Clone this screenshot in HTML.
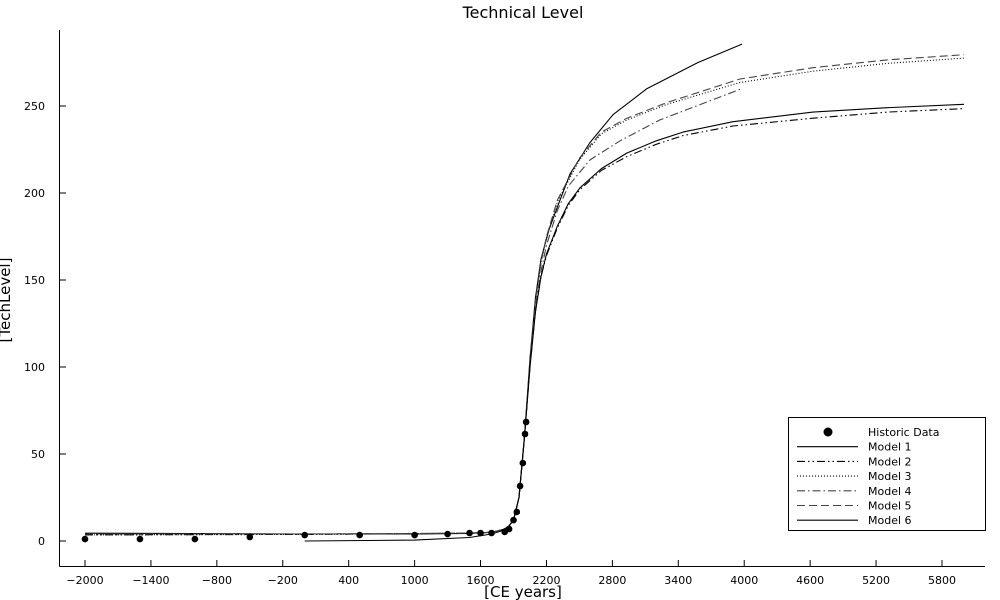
<!DOCTYPE html>
<html><head><meta charset="utf-8"><style>
body{margin:0;background:#fff}
svg{display:block;font-family:"DejaVu Sans","Liberation Sans",sans-serif}
</style></head><body>
<svg id="chart" width="1000" height="600">
<text x="523" y="18" font-size="16" text-anchor="middle">Technical Level</text>
<text x="523" y="597" font-size="15" text-anchor="middle">[CE years]</text>
<text transform="translate(10,300) rotate(-90)" font-size="15" text-anchor="middle">[TechLevel]</text>
<g id="axes"></g><g id="series"></g><g id="legend"></g>
</svg>
<script>
const xTicks=[-2000,-1400,-800,-200,400,1000,1600,2200,2800,3400,4000,4600,5200,5800];
const yTicks=[0,50,100,150,200,250];
const histYears=[-2000,-1500,-1000,-500,0,500,1000,1300,1500,1600,1700,1820,1860,1900,1930,1960,1985,2005,2015];
const histVals=[1.1,1.1,1.1,2.3,3.4,3.4,3.4,4,4.6,4.6,4.6,5.2,6.9,12,16.7,31.6,44.8,61.5,68.4];
const m1Years=[-2000,0,1000,1500,1700,1800,1850,1900,1950,2000,2050,2100,2150,2223,2300,2414,2596,2806,3115,3579,3980];
const m1Vals=[4.5,4,4,4.3,5,6.5,8,12,25,60,105,140,162,179,192,211,229,245,260,275,285.6];
const m2Years=[-2000,0,1000,1500,1700,1800,1850,1900,1950,2000,2050,2100,2150,2200,2300,2400,2505,2700,2933,3200,3443,3898,4626,5300,6000];
const m2Vals=[3.5,3.8,4.2,4.5,5,6.5,8,12,25,60,100,132,152,164,180,193,202,213,221,228,233,238.5,243,246.5,248.5];
const m3Years=[-2000,0,1000,1500,1700,1800,1850,1900,1950,2000,2050,2100,2150,2200,2300,2500,2700,2933,3297,3962,4626,5300,6000];
const m3Vals=[3.5,3.8,4.2,4.5,5,6.5,8,12,25,60,103,138,160,174,195,219,234,242,251,263.5,270,274.5,277.5];
const m4Years=[-2000,0,1000,1500,1700,1800,1850,1900,1950,2000,2050,2100,2150,2200,2300,2400,2596,2870,3233,3980];
const m4Vals=[4,4,4.3,4.6,5,6.5,8,12,25,60,102,135,155,170,190,204,219,230,242,260];
const m5Years=[-2000,0,1000,1500,1700,1800,1850,1900,1950,2000,2050,2100,2150,2200,2300,2500,2700,2933,3297,3962,4626,5300,6000];
const m5Vals=[4,4,4.3,4.6,5,6.5,8,12,25,60,103,138,160,175,196,220,235,243,252,265.5,272,276.5,279.5];
const m6Years=[0,1000,1500,1700,1800,1850,1900,1950,2000,2050,2100,2150,2200,2300,2400,2505,2700,2933,3200,3443,3898,4626,5300,6000];
const m6Vals=[0,0.5,2,4,6,8,12,25,60,100,132,152,165,181,194,203,214,223,230,235,241,246.5,249,251];

const NS="http://www.w3.org/2000/svg";
const X=v=>85+(v+2000)*0.10987;
const Y=v=>541-v*1.74;
function mk(tag,attrs,parent){const e=document.createElementNS(NS,tag);for(const k in attrs)e.setAttribute(k,attrs[k]);parent.appendChild(e);return e;}
const axes=document.getElementById('axes'),ser=document.getElementById('series'),leg=document.getElementById('legend');
let a=mk('line',{x1:59.5,y1:30,x2:59.5,y2:566.5,stroke:'#000'},axes);


a=mk('line',{x1:59.5,y1:566.5,x2:985,y2:566.5,stroke:'#000'},axes);


xTicks.forEach(t=>{
 const l=mk('line',{x1:X(t),x2:X(t),y1:566.5,y2:560,stroke:'#000'},axes);
 
 
 const tx=mk('text',{x:X(t),y:584,'font-size':11,'text-anchor':'middle'},axes);
 tx.textContent=(t<0?'\u2212'+(-t):t);
 
 
});
yTicks.forEach(t=>{
 const l=mk('line',{x1:59.5,x2:66,y1:Y(t),y2:Y(t),stroke:'#000'},axes);
 
 
 const tx=mk('text',{x:45,y:Y(t)+4,'font-size':11,'text-anchor':'end'},axes);
 tx.textContent=t;
 
 
});
const models=[
 ['model-1',m1Years,m1Vals,'#000','none'],
 ['model-2',m2Years,m2Vals,'#000','8 3 1.5 3 1.5 3'],
 ['model-3',m3Years,m3Vals,'#000','1 2'],
 ['model-4',m4Years,m4Vals,'#444','8 3 1.5 3'],
 ['model-5',m5Years,m5Vals,'#444','8 4'],
 ['model-6',m6Years,m6Vals,'#000','none']];
models.forEach(m=>{
 const d=m[1].map((yr,i)=>(i?'L':'M')+X(yr).toFixed(1)+','+Y(m[2][i]).toFixed(1)).join('');
 const p=mk('path',{d:d,fill:'none',stroke:m[3],'stroke-width':1.1,'stroke-dasharray':m[4],'stroke-linejoin':'round'},ser);
 
 
});
histYears.forEach((yr,i)=>{
 const c=mk('circle',{cx:X(yr),cy:Y(histVals[i]),r:3.3,fill:'#000'},ser);
 
 
});
const box=mk('rect',{x:788.5,y:417.5,width:197,height:113,fill:'#fff',stroke:'#000'},leg);


const labels=['Historic Data','Model 1','Model 2','Model 3','Model 4','Model 5','Model 6'];
labels.forEach((lb,i)=>{
 const y=432+i*14.7;
 if(i===0){const c=mk('circle',{cx:828,cy:y,r:4.5,fill:'#000'},leg);
  
  }
 else{const m=models[i-1];const l=mk('line',{x1:797,x2:858,y1:y,y2:y,stroke:m[3],'stroke-width':1.1,'stroke-dasharray':m[4]},leg);
  
  }
 const t=mk('text',{x:868,y:y+4,'font-size':11},leg);
 t.textContent=lb;
 
 
});
</script>
</body></html>
